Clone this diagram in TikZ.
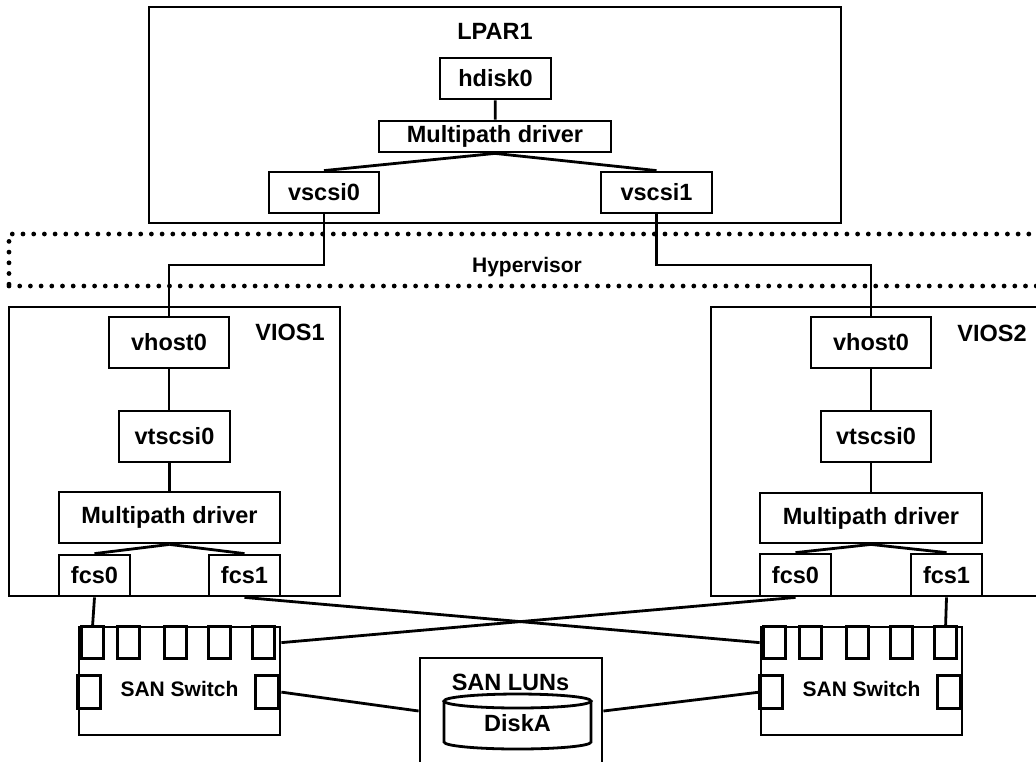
\documentclass[tikz,border=0pt]{standalone}
\usepackage{fontspec}
\setmainfont{Liberation Sans}
\usetikzlibrary{calc}

\begin{document}
\begin{tikzpicture}[x=0.5pt, y=-0.5pt,
      every node/.style={font=\bfseries\fontsize{11.75}{14}\selectfont, inner sep=0pt},
      outer/.style={draw, line width=1.4pt},
      dev/.style={draw, line width=1.4pt, minimum height=20.5pt},
      port/.style={draw, line width=1.4pt, minimum width=11pt, minimum height=16pt},
      small/.style={font=\bfseries\fontsize{10.5}{12}\selectfont},
      link/.style={line width=1.4pt},
      dots/.style={line width=2.4pt, line cap=round, dash pattern=on 0pt off 5.35pt}
    ]
      \useasboundingbox (0,0) rectangle (1036,761);
      \clip (0,0) rectangle (1036,761);

      % LPAR
      \node[outer, minimum width=346pt, minimum height=108pt] (lpar) at (495,115) {};
      \node (lparlbl) at (495,31) {LPAR1};
      \node[dev, minimum width=55.5pt] (hdisk) at (495.5,78.5) {hdisk0};
      \node[dev, minimum width=116pt, minimum height=15.5pt] (lmp) at (495,136.5) {Multipath driver};
      \node[dev, minimum width=55pt] (vs0) at (324,192.5) {vscsi0};
      \node[dev, minimum width=55.5pt] (vs1) at (656.5,192.5) {vscsi1};

      \draw[link] (hdisk) -- (lmp);
      \draw[link] (lmp.south) -- (vs0.north);
      \draw[link] (lmp.south) -- (vs1.north);

      % Hypervisor
      \node[dots, draw, minimum width=525.5pt, minimum height=26pt] (hyp) at (534.5,260) {};
      \node[small] (hyplbl) at (527,267) {Hypervisor};

      % VIOS1
      \node[outer, minimum width=165.5pt, minimum height=144.5pt] (vios1) at (174.5,451.5) {};
      \node (vios1lbl) at (290,332) {VIOS1};
      \node[dev, minimum width=60pt, minimum height=25.5pt] (v1host) at (169,342.5) {vhost0};
      \node[dev, minimum width=55.5pt, minimum height=25.5pt] (v1vt) at (174.5,436.5) {vtscsi0};
      \node[dev, minimum width=110.5pt, minimum height=25.5pt] (v1mp) at (169.5,517.5) {Multipath driver};
      \node[dev, minimum width=35.5pt] (v1fcs0) at (94.5,575.5) {fcs0};
      \node[dev, minimum width=35.5pt] (v1fcs1) at (244.5,575.5) {fcs1};

      \draw[link] (v1host.south) -- (v1host.south |- v1vt.north);
      \draw[link] (v1mp.north |- v1vt.south) -- (v1mp.north);
      \draw[link] (v1mp.south) -- (v1fcs0.north);
      \draw[link] (v1mp.south) -- (v1fcs1.north);

      % VIOS2
      \node[outer, minimum width=174.5pt, minimum height=144.5pt] (vios2) at (885.5,451.5) {};
      \node (vios2lbl) at (992,333) {VIOS2};
      \node[dev, minimum width=60pt, minimum height=25.5pt] (v2host) at (871,342.5) {vhost0};
      \node[dev, minimum width=55pt, minimum height=25.5pt] (v2vt) at (876,436.5) {vtscsi0};
      \node[dev, minimum width=111pt, minimum height=25pt] (v2mp) at (871,518) {Multipath driver};
      \node[dev, minimum width=35.5pt, minimum height=21pt] (v2fcs0) at (795.5,575) {fcs0};
      \node[dev, minimum width=35.5pt, minimum height=21pt] (v2fcs1) at (946.5,575) {fcs1};

      \draw[link] (v2host.south) -- (v2host.south |- v2vt.north);
      \draw[link] (v2mp.north |- v2vt.south) -- (v2mp.north);
      \draw[link] (v2mp.south) -- (v2fcs0.north);
      \draw[link] (v2mp.south) -- (v2fcs1.north);

      % through the hypervisor
      \draw[link] (vs0.south) |- ($(vs0.south)!0.5!(v1host.north)$) -| (v1host.north);
      \draw[link] (vs1.south) |- ($(vs1.south)!0.5!(v2host.north)$) -| (v2host.north);

      % SAN switches
      \foreach \sw/\cx in {lsw/179.5, rsw/861.5} {
        \node[outer, minimum width=100.5pt, minimum height=54pt] (\sw) at (\cx,681) {};
        \node[small] (\sw lbl) at (\cx,689) {SAN Switch};
        \foreach \i/\dx in {1/15, 2/51, 3/98, 4/142, 5/186}
          \node[port] (\sw p\i) at ($(\sw.north west)+(\dx,17)$) {};
        \node[port, minimum width=11.5pt, minimum height=16.5pt] (\sw l) at ($(\sw.north west)+(11.5,66.5)$) {};
        \node[port, minimum width=11.5pt, minimum height=16.5pt] (\sw r) at ($(\sw.north west)+(189.5,66.5)$) {};
      }

      % SAN LUNs
      \node[outer, minimum width=91pt, minimum height=53pt] (lun) at (511,711) {};
      \node (lunlbl) at (510.5,682) {SAN LUNs};
      \node (diska) at (517.5,723) {DiskA};
      \draw[link] (517.5,701) ellipse [x radius=36.75pt, y radius=3.5pt];
      \draw[link] (444,701) -- (444,742) arc[start angle=180, end angle=360, x radius=36.75pt, y radius=3.5pt] -- (591,701);

      % fibre links
      \draw[link] (v1fcs0.south) -- (lswp1.north);
      \draw[link] (v2fcs1.south) -- (rswp5.north);
      \draw[link] (v1fcs1.south) -- (rswp1 -| rsw.west);
      \draw[link] (v2fcs0.south) -- (lswp5 -| lsw.east);
      \draw[link] (lswr -| lsw.east) -- (lun.west);
      \draw[link] (rswl -| rsw.west) -- (lun.east);
    \end{tikzpicture}
\end{document}
